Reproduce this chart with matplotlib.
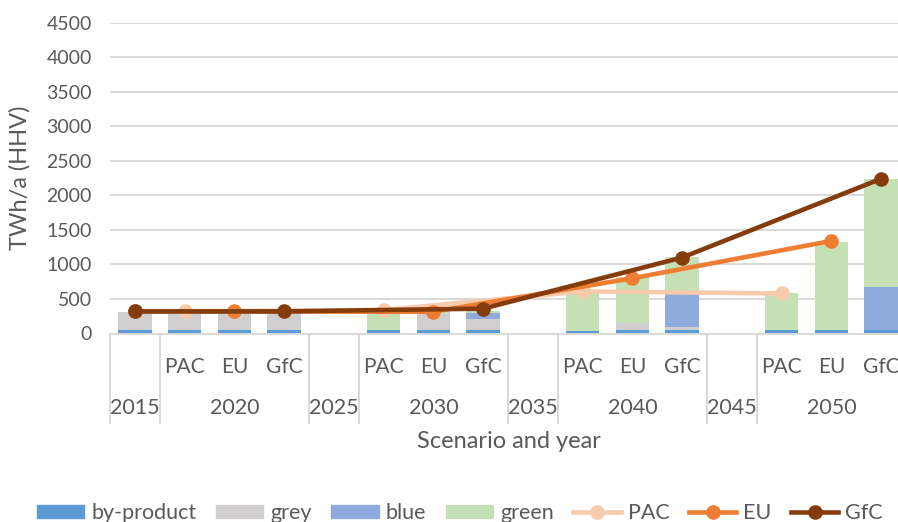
import numpy as np
import matplotlib
matplotlib.use('Agg')
import matplotlib.pyplot as plt
from matplotlib.lines import Line2D
from matplotlib.patches import Patch

plt.rcParams['font.family'] = ['Lato', 'DejaVu Sans']

# categories on the two-level x axis
years = ['2015', '2020', '2020', '2020', '2025', '2030', '2030', '2030',
         '2035', '2040', '2040', '2040', '2045', '2050', '2050', '2050']
scenarios = ['', 'PAC', 'EU', 'GfC', '', 'PAC', 'EU', 'GfC',
             '', 'PAC', 'EU', 'GfC', '', 'PAC', 'EU', 'GfC']

# stacked bars, TWh/a
by_product = [50, 50, 50, 50, 0, 50, 50, 50, 0, 40, 50, 50, 0, 45, 45, 45]
grey = [260, 260, 260, 260, 0, 0, 230, 155, 0, 0, 105, 48, 0, 0, 0, 0]
blue = [0, 0, 0, 0, 0, 0, 0, 95, 0, 0, 0, 470, 0, 0, 0, 625]
green = [0, 0, 0, 0, 0, 265, 35, 30, 0, 560, 670, 535, 0, 535, 1285, 1565]

# demand lines (None = no point in that category)
pac_line = [320, 320, None, None, None, 340, None, None, None, 610, None, None, None, 580, None, None]
eu_line = [320, None, 320, None, None, None, 315, None, None, None, 800, None, None, None, 1340, None]
gfc_line = [320, None, None, 320, None, None, None, 360, None, None, None, 1100, None, None, None, 2240]

txt = '#595959'
gridc = '#D9D9D9'

fig = plt.figure(figsize=(8.98, 5.22), dpi=100)
ax = fig.add_axes([110/898, 1-333.5/522, 796/898, 310.8/522])

x = np.arange(len(years))
w = 0.67
bottom = np.zeros(len(x))
for vals, col in [(by_product, '#5B9BD5'), (grey, '#D0CECE'),
                  (blue, '#8FAADC'), (green, '#C5E0B4')]:
    ax.bar(x, vals, w, bottom=bottom, color=col, zorder=2)
    bottom += np.array(vals)

for vals, col in [(pac_line, '#F8CBAD'), (eu_line, '#ED7D31'), (gfc_line, '#843C0C')]:
    xi = [i for i, v in enumerate(vals) if v is not None]
    yi = [v for v in vals if v is not None]
    ax.plot(xi, yi, color=col, lw=3.3, marker='o', ms=9.5, zorder=3)

ax.set_xlim(-0.5, len(x) - 0.5)
ax.set_ylim(0, 4500)
ax.set_yticks(range(0, 4501, 500))
ax.yaxis.grid(True, color=gridc, lw=1.4, zorder=0)
ax.set_axisbelow(True)
for s in ['top', 'right', 'left']:
    ax.spines[s].set_visible(False)
ax.spines['bottom'].set_color(gridc)
ax.spines['bottom'].set_linewidth(1.4)
ax.tick_params(axis='y', length=0, pad=13, labelsize=14, labelcolor=txt)
ax.tick_params(axis='x', length=0, pad=17, labelsize=15, labelcolor=txt)
ax.set_xticks(x)
ax.set_xticklabels(scenarios)

# year level of the axis
trans = ax.get_xaxis_transform()
groups = []
for i, y in enumerate(years):
    if groups and groups[-1][0] == y:
        groups[-1][2] = i
    else:
        groups.append([y, i, i])
for y, a, b in groups:
    ax.text((a + b) / 2, -0.24, y, transform=trans, ha='center', va='center',
            fontsize=15.5, color=txt)
    ax.plot([a - 0.5, a - 0.5], [0, -0.288], transform=trans, color=gridc,
            lw=1.4, clip_on=False)
ax.plot([b + 0.5, b + 0.5], [0, -0.288], transform=trans, color=gridc,
        lw=1.4, clip_on=False)

fig.text(509/898, 1-442/522, 'Scenario and year', ha='center', va='center',
         fontsize=17, color=txt)
fig.text(20/898, 1-178/522, 'TWh/a (HHV)', rotation=90, ha='center', va='center',
         fontsize=17, color=txt)

handles = [Patch(color='#5B9BD5'), Patch(color='#D0CECE'), Patch(color='#8FAADC'),
           Patch(color='#C5E0B4'),
           Line2D([], [], color='#F8CBAD', lw=3.3, marker='o', ms=9.5),
           Line2D([], [], color='#ED7D31', lw=3.3, marker='o', ms=9.5),
           Line2D([], [], color='#843C0C', lw=3.3, marker='o', ms=9.5)]
labels = ['by-product', 'grey', 'blue', 'green', 'PAC', 'EU', 'GfC']
leg = fig.legend(handles, labels, loc='center', bbox_to_anchor=(460/898, 1-513/522),
                 ncol=7, frameon=False, fontsize=15.5, handlelength=2.2,
                 handleheight=0.6, handletextpad=0.33, columnspacing=0.9)
for t in leg.get_texts():
    t.set_color(txt)

fig.savefig('out.png', dpi=100)
